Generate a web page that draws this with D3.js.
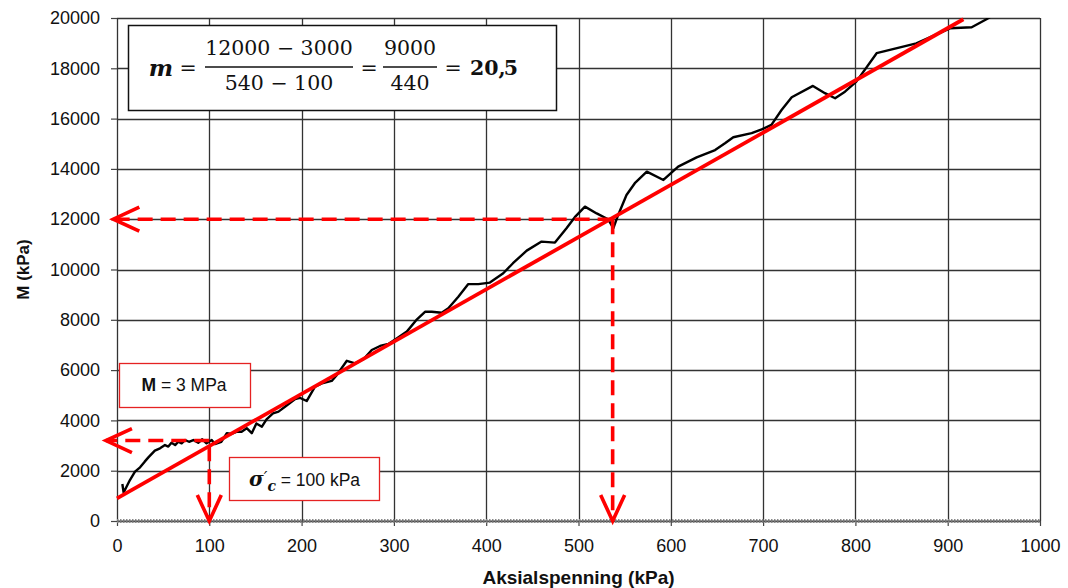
<!DOCTYPE html>
<html>
<head>
<meta charset="utf-8">
<script src="https://cdn.jsdelivr.net/npm/d3@7"></script>
<style>
  body { margin: 0; background: #fff; }
  svg { display: block; font-family: "Liberation Sans", Arial, sans-serif; }
</style>
</head>
<body>
<div id="chart-area"></div>
<script>
// Data
const stressKPa = [5.8, 7.2, 14, 19.5, 25, 30, 34, 41, 46.6, 52, 55.6, 59, 63, 66.4, 70, 73.7, 78, 82.7, 88, 92.4,
  97, 102.6, 106, 113, 119, 124, 130, 135, 140.5, 146, 151, 157, 162, 169, 175, 182, 187, 193, 198, 205.5,
  214.5, 222, 232.6, 238, 249, 258, 267, 276, 285, 294, 303, 314, 325, 333.7, 341, 351.8, 359, 369.8, 380.6, 391.5,
  404, 418.5, 429, 443.9, 460, 474.5, 487, 496, 507, 519.7, 532, 537.7, 543, 552, 561, 574, 592, 608, 628, 648,
  658.7, 667.7, 687.6, 698.5, 709, 720, 731, 754, 767, 778, 788.7, 801, 823, 866, 902.5, 926, 942, 960];
const modulusKPa = [1470, 1130, 1630, 1960, 2135, 2360, 2530, 2800, 2890, 3020, 2960, 3110, 3020, 3150, 3090, 3220, 3150, 3220, 3110, 3250,
  3090, 3220, 3060, 3150, 3490, 3460, 3550, 3550, 3690, 3490, 3880, 3750, 4040, 4280, 4350, 4540, 4680, 4850, 4900, 4770,
  5340, 5470, 5570, 5800, 6370, 6270, 6430, 6800, 6960, 7040, 7260, 7530, 8020, 8320, 8320, 8280, 8460, 8920, 9420, 9420,
  9480, 9850, 10250, 10750, 11110, 11070, 11640, 12080, 12500, 12230, 12000, 11640, 12170, 12960, 13430, 13890, 13560, 14090, 14460, 14750,
  15020, 15260, 15420, 15570, 15750, 16340, 16850, 17300, 17010, 16810, 17070, 17470, 18600, 18990, 19590, 19630, 19950, 20350];

// fitted line
const fitX = [0, 917];
const fitM = [900, 19950];

// construction lines
const sigmaC = 100;
const mAtSigma = 3200;
const mAtSigmaLine = 2977;
const upperX = 537;
const upperM = 12000;

const xTicks = [0, 100, 200, 300, 400, 500, 600, 700, 800, 900, 1000];
const yTicks = [0, 2000, 4000, 6000, 8000, 10000, 12000, 14000, 16000, 18000, 20000];

const margin = { left: 117, right: 28, top: 18, bottom: 67 };
const W = 1068, H = 588;
const width = W - margin.left - margin.right;
const height = H - margin.top - margin.bottom;

const svg = d3.select('#chart-area')
  .append('svg')
    .attr('width', W)
    .attr('height', H);

const area = svg.append('g')
  .attr('transform', 'translate(' + margin.left + ',' + margin.top + ')');

const x = d3.scaleLinear().domain([0, 1000]).range([0, width]);
const y = d3.scaleLinear().domain([0, 20000]).range([height, 0]);

svg.append('defs').append('clipPath').attr('id', 'plot-clip')
  .append('rect').attr('width', width).attr('height', height);

// Grid
area.selectAll('.vgrid').data(xTicks).enter().append('line')
  .attr('x1', d => Math.round(x(d)) + 0.5).attr('x2', d => Math.round(x(d)) + 0.5)
  .attr('y1', 0).attr('y2', height)
  .attr('stroke', '#333').attr('stroke-width', 1.3);
area.selectAll('.hgrid').data(yTicks).enter().append('line')
  .attr('x1', 0).attr('x2', width)
  .attr('y1', d => Math.round(y(d)) + 0.5).attr('y2', d => Math.round(y(d)) + 0.5)
  .attr('stroke', '#333').attr('stroke-width', 1.3);

// Axes
const yAxisCall = d3.axisLeft(y).tickValues(yTicks).tickSize(6).tickPadding(11).tickFormat(d => d);
const yAxis = area.append('g').attr('class', 'y-axis').call(yAxisCall);
const xAxisCall = d3.axisBottom(x).tickValues(xTicks).tickSize(5).tickPadding(13).tickFormat(d => d);
const xAxis = area.append('g').attr('class', 'x-axis')
  .attr('transform', 'translate(0,' + height + ')').call(xAxisCall);
[xAxis, yAxis].forEach(a => {
  a.select('.domain').remove();
  a.selectAll('line').attr('stroke', '#444').attr('stroke-width', 1.2);
  a.selectAll('text').attr('font-size', '18px').attr('fill', '#111')
    .attr('font-family', '"Liberation Sans", Arial, sans-serif');
});

// zero series (grey dotted along the axis)
area.append('line')
  .attr('x1', x(0)).attr('x2', x(1000)).attr('y1', y(0)).attr('y2', y(0))
  .attr('stroke', '#8a8a8a').attr('stroke-width', 4).attr('stroke-dasharray', '1.5,1.5');
area.append('line')
  .attr('x1', x(0)).attr('x2', x(1000)).attr('y1', y(0)).attr('y2', y(0))
  .attr('stroke', '#666').attr('stroke-width', 1.2);

// Labels
svg.append('text')
  .attr('transform', 'translate(29,' + (margin.top + height / 2) + ') rotate(-90)')
  .attr('text-anchor', 'middle')
  .attr('font-size', '17px').attr('font-weight', 'bold').attr('fill', '#111')
  .text('M (kPa)');
svg.append('text')
  .attr('x', margin.left + width / 2).attr('y', 584)
  .attr('text-anchor', 'middle')
  .attr('font-size', '19px').attr('font-weight', 'bold').attr('fill', '#111')
  .text('Aksialspenning (kPa)');

// measured curve
const curve = stressKPa.map((s, i) => [s, modulusKPa[i]]);
const lineGen = d3.line().x(d => x(d[0])).y(d => y(d[1]));
area.append('path')
  .datum(curve)
  .attr('clip-path', 'url(#plot-clip)')
  .attr('d', lineGen)
  .attr('fill', 'none').attr('stroke', '#000').attr('stroke-width', 2.4)
  .attr('stroke-linejoin', 'round');

// construction lines
const red = '#ff0000';
function dashed(x1, y1, x2, y2) {
  area.append('line')
    .attr('x1', x1).attr('y1', y1).attr('x2', x2).attr('y2', y2)
    .attr('stroke', red).attr('stroke-width', 3.6).attr('stroke-dasharray', '15,8');
}
function chevron(tx, ty, dir) {
  const L = 26, S = 12;
  let p;
  if (dir === 'left') p = [[tx + L, ty - S], [tx, ty], [tx + L, ty + S]];
  else p = [[tx - S, ty - L], [tx, ty], [tx + S, ty - L]];
  area.append('path').attr('d', d3.line()(p))
    .attr('fill', 'none').attr('stroke', red).attr('stroke-width', 3.6)
    .attr('stroke-linejoin', 'miter');
}
dashed(x(upperX), y(upperM), x(-4), y(upperM));
chevron(x(-4), y(upperM), 'left');
dashed(x(upperX), y(upperM), x(upperX), y(0) - 2);
chevron(x(upperX), y(0), 'down');
dashed(x(sigmaC), y(mAtSigma), x(-12), y(mAtSigma));
chevron(x(-12), y(mAtSigma), 'left');
dashed(x(sigmaC), y(mAtSigmaLine), x(sigmaC), y(0) - 2);
chevron(x(sigmaC), y(0), 'down');

// fitted line
area.append('line')
  .attr('x1', x(fitX[0])).attr('y1', y(fitM[0]))
  .attr('x2', x(fitX[1])).attr('y2', y(fitM[1]))
  .attr('stroke', red).attr('stroke-width', 3.8);

// Formula box
const serif = '"DejaVu Serif", "Liberation Serif", serif';
const fbox = svg.append('g');
fbox.append('rect').attr('x', 128.5).attr('y', 25.5).attr('width', 428).attr('height', 85)
  .attr('fill', '#fff').attr('stroke', '#111').attr('stroke-width', 1.5);
function ftext(tx, ty, str, weight, style, anchor) {
  return fbox.append('text').attr('x', tx).attr('y', ty).attr('text-anchor', anchor || 'middle')
    .attr('font-family', serif).attr('font-size', '20.5px')
    .attr('font-weight', weight || 'normal').attr('font-style', style || 'normal')
    .attr('fill', '#111').text(str);
}
ftext(161, 76, 'm', 'bold', 'italic').attr('font-size', '23px');
ftext(188, 75, '=');
fbox.append('line').attr('x1', 205).attr('x2', 353).attr('y1', 67).attr('y2', 67)
  .attr('stroke', '#111').attr('stroke-width', 1.6);
ftext(279, 55, '12000 \u2212 3000');
ftext(279, 90, '540 \u2212 100');
ftext(369, 75, '=');
fbox.append('line').attr('x1', 383).attr('x2', 437).attr('y1', 67).attr('y2', 67)
  .attr('stroke', '#111').attr('stroke-width', 1.6);
ftext(410, 55, '9000');
ftext(410, 90, '440');
ftext(453, 75, '=');
ftext(470, 75, '20,', 'bold', 'normal', 'start');
ftext(518, 75, '5', 'bold', 'normal', 'end');

// M = 3 MPa box
svg.append('rect').attr('x', 119.5).attr('y', 363.5).attr('width', 131).attr('height', 44)
  .attr('fill', '#fff').attr('stroke', '#e52222').attr('stroke-width', 1.3);
const mt = svg.append('text').attr('x', 184).attr('y', 391).attr('text-anchor', 'middle')
  .attr('font-size', '17.5px').attr('fill', '#111');
mt.append('tspan').attr('font-weight', 'bold').text('M');
mt.append('tspan').text(' = 3 MPa');

// sigma box
svg.append('rect').attr('x', 229.5).attr('y', 457.5).attr('width', 150).attr('height', 43)
  .attr('fill', '#fff').attr('stroke', '#e52222').attr('stroke-width', 1.3);
const st = svg.append('text').attr('x', 249).attr('y', 486)
  .attr('font-size', '17.5px').attr('fill', '#111');
st.append('tspan').attr('font-family', serif).attr('font-weight', 'bold').attr('font-style', 'italic')
  .attr('font-size', '20px').text('\u03c3');
st.append('tspan').attr('font-family', serif).attr('font-style', 'italic')
  .attr('font-size', '16px').attr('dy', -3).text('\u2032');
st.append('tspan').attr('font-family', serif).attr('font-weight', 'bold').attr('font-style', 'italic')
  .attr('font-size', '14px').attr('dy', 8).text('c');
st.append('tspan').attr('dy', -5).text(' = 100 kPa');
</script>
</body>
</html>
